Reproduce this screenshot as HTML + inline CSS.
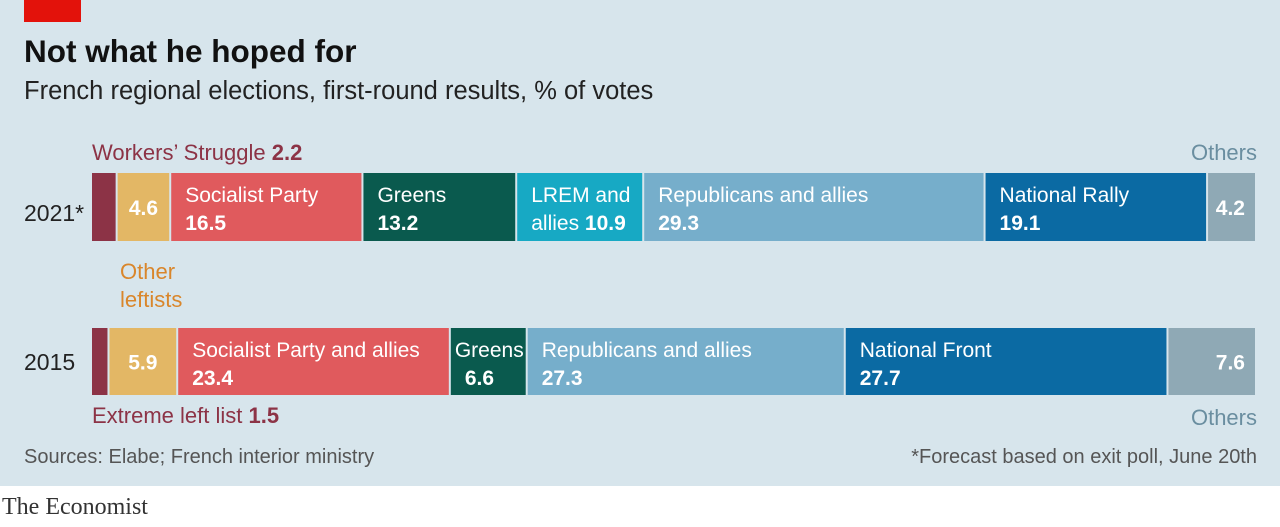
<!DOCTYPE html>
<html><head><meta charset="utf-8"><style>
body{margin:0;width:1280px;height:522px;overflow:hidden;background:#fff;font-family:"Liberation Sans",sans-serif}
</style></head><body>
<svg width="1280" height="522" xmlns="http://www.w3.org/2000/svg" font-family="Liberation Sans, sans-serif">
<rect x="0" y="0" width="1280" height="486" fill="#d7e5ec"/>
<rect x="24" y="0" width="57" height="22" fill="#e3120b"/>
<text x="24" y="62" font-size="31.5" font-weight="bold" fill="#111">Not what he hoped for</text>
<text x="24" y="99" font-size="25.5" fill="#222">French regional elections, first-round results, % of votes</text>
<text x="24" y="221" font-size="23" fill="#222">2021*</text>
<text x="24" y="370" font-size="23" fill="#222">2015</text>
<g id="bars"></g>
<text x="92" y="160" font-size="22" fill="#8c3346">Workers’ Struggle <tspan font-weight="bold">2.2</tspan></text>
<text x="1257" y="160" font-size="22" fill="#6a8ea0" text-anchor="end">Others</text>
<text x="120" y="279" font-size="22" fill="#d9862b">Other</text>
<text x="120" y="307" font-size="22" fill="#d9862b">leftists</text>
<text x="92" y="423" font-size="22" fill="#8c3346">Extreme left list <tspan font-weight="bold">1.5</tspan></text>
<text x="1257" y="425" font-size="22" fill="#6a8ea0" text-anchor="end">Others</text>
<text x="24" y="463" font-size="20" fill="#555">Sources: Elabe; French interior ministry</text>
<text x="1257" y="463" font-size="20" fill="#555" text-anchor="end">*Forecast based on exit poll, June 20th</text>
<text x="2" y="514" font-size="24" font-family="Liberation Serif, serif" fill="#333">The Economist</text>
</svg>
<script>
const parties2021 = ["Workers' Struggle","Other leftists","Socialist Party","Greens","LREM and allies","Republicans and allies","National Rally","Others"];
const values2021 = [2.2,4.6,16.5,13.2,10.9,29.3,19.1,4.2];
const labels2021 = [["",""],["","4.6"],["Socialist Party","16.5"],["Greens","13.2"],["LREM and","10.9","allies "],["Republicans and allies","29.3"],["National Rally","19.1"],["","4.2"]];
const parties2015 = ["Extreme left list","Other leftists","Socialist Party and allies","Greens","Republicans and allies","National Front","Others"];
const values2015 = [1.5,5.9,23.4,6.6,27.3,27.7,7.6];
const labels2015 = [["",""],["","5.9"],["Socialist Party and allies","23.4"],["Greens","6.6"],["Republicans and allies","27.3"],["National Front","27.7"],["","7.6"]];
const colors2021 = ["#8c3346","#e3b765","#e05a5d","#0a5a4e","#17a9c4","#76aecb","#0b6aa3","#8fa9b5"];
const colors2015 = ["#8c3346","#e3b765","#e05a5d","#0a5a4e","#76aecb","#0b6aa3","#8fa9b5"];
const X0=92, W=1165;
function xs(v){return v/100*W;}
const ns="http://www.w3.org/2000/svg";
const g=document.getElementById('bars');
function mk(t,a){const e=document.createElementNS(ns,t);for(const k in a)e.setAttribute(k,a[k]);return e;}
function drawRow(names,vals,labels,cols,y,h,year){
  const total=vals.reduce((a,b)=>a+b,0);let acc=0;
  vals.forEach((v,i)=>{
    const x=X0+xs(acc/total*100), w=xs(v/total*100);acc+=v;
    const r=mk('rect',{x:x,y:y,width:Math.max(w-2,0.5),height:h,fill:cols[i]});
    
    
    g.appendChild(r);
    const last=i===vals.length-1, noTitle=labels[i][0]==="";
    const pad = w<90?4:14;
    if(labels[i][0]){const t=mk('text',{x:x+pad,y:y+29,'font-size':21,fill:'#fff'});t.textContent=labels[i][0];
      if(w<90) t.setAttribute('textLength', w-8);
      
      g.appendChild(t);}
    if(labels[i][1]){
      const t=mk('text',{x:last?x+w-12:(noTitle?x+w/2-1:x+pad+(w<90?10:0)),y:noTitle?y+h/2+8:y+57,'font-size':21,'font-weight':'bold',fill:'#fff','text-anchor':last?'end':(noTitle?'middle':'start')});
      if(labels[i][2]){const s=mk('tspan',{'font-weight':'normal'});s.textContent=labels[i][2];t.appendChild(s);
        const s2=mk('tspan',{});s2.textContent=labels[i][1];t.appendChild(s2);}
      else t.textContent=labels[i][1];
      
      g.appendChild(t);}
  });
}
drawRow(parties2021,values2021,labels2021,colors2021,173,68,'2021');
drawRow(parties2015,values2015,labels2015,colors2015,328,67,'2015');
</script>
</body></html>
